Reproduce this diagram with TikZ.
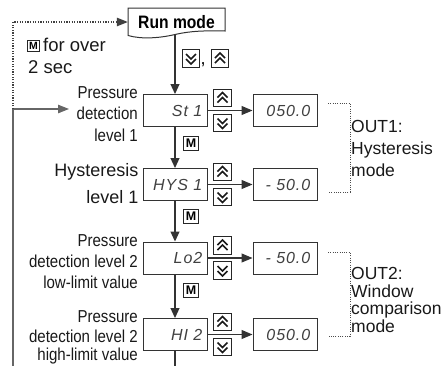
\documentclass[tikz,border=0pt]{standalone}
\usepackage{fontspec}
\setmainfont{Liberation Sans}
\newfontfamily\condfont[FakeStretch=0.87]{Liberation Sans}
\newfontfamily\segfont[LetterSpace=6]{Liberation Sans}
\usetikzlibrary{arrows.meta,calc}
\tikzset{
 ln/.style={draw=black!80, line width=1.1pt},
 tip/.style={-{Triangle[length=10pt,width=9pt]}},
 box/.style={draw=black!80, line width=1pt, fill=white, minimum width=64pt, minimum height=32pt, inner sep=0pt},
 seg/.style={anchor=east, inner sep=0pt, text=black!75, font=\segfont\itshape\fontsize{16}{16}\selectfont},
 btn/.style={draw=black!85, line width=0.9pt, fill=white, minimum size=17.5pt, inner sep=0pt},
 chev/.style={draw=black!90, line width=1.6pt},
 mkey/.style={draw=black!85, line width=0.9pt, minimum width=15pt, minimum height=14pt, inner sep=0pt, font=\bfseries\fontsize{12.5}{12.5}\selectfont},
 lbl/.style={anchor=base east, inner sep=0pt, text=black!90, font=\condfont\fontsize{17.3}{20}\selectfont},
 hlbl/.style={anchor=base east, inner sep=0pt, text=black!90, font=\fontsize{18}{20}\selectfont},
 otxt/.style={anchor=base west, inner sep=0pt, text=black!90, font=\fontsize{17.5}{20}\selectfont},
 dots/.style={draw=black!70, line width=0.8pt, dash pattern=on 1pt off 1.3pt},
 loopdots/.style={draw=black!75, line width=1.2pt, dash pattern=on 1.2pt off 1.4pt},
 upbtn/.pic={\node[btn] (-b) at (0,0) {};
   \draw[chev] (-5,-0.5) -- (0,-5.5) -- (5,-0.5);
   \draw[chev] (-5,4.5) -- (0,-0.5) -- (5,4.5);},
 dnbtn/.pic={\node[btn] (-b) at (0,0) {};
   \draw[chev] (-5,-4.5) -- (0,0.5) -- (5,-4.5);
   \draw[chev] (-5,0.5) -- (0,5.5) -- (5,0.5);}
}
\begin{document}
\begin{tikzpicture}[x=1pt,y=-1pt]
\useasboundingbox (0,0) rectangle (448,365);

% Run mode document shape
\draw[ln, line width=1pt, fill=white] (128,8) -- (225,8) -- (225,31)
  .. controls (205,30.5) and (190,31) .. (175,34.5)
  .. controls (160,38) and (142,39.5) .. (128,35.5) -- cycle;
\node[inner sep=0pt, minimum width=97pt, minimum height=28pt,
  font=\condfont\bfseries\fontsize{18}{18}\selectfont] (run) at (176.5,22) {Run mode};
\coordinate (runb) at (175,34.5);

% top keys
\pic (tdn) at (191,58.5) {dnbtn};
\node[inner sep=0pt, anchor=base, font=\fontsize{18}{18}\selectfont] (comma) at (203,64) {,};
\pic (tup) at (220,58.5) {upbtn};

% setting boxes
\node[box] (s1) at (175,110.5) {};
\node[box] (s2) at (175,184.5) {};
\node[box] (s3) at (175,258) {};
\node[box] (s4) at (175,334.5) {};
\node[seg] (t1) at ($(s1.east)+(-5,0)$) {St 1};
\node[seg] (t2) at ($(s2.east)+(-5,0)$) {HYS 1};
\node[seg] (t3) at ($(s3.east)+(-5,0)$) {Lo2};
\node[seg] (t4) at ($(s4.east)+(-5,0)$) {HI 2};

% value boxes
\node[box] (v1) at (285,110.5) {};
\node[box] (v2) at (285,184.5) {};
\node[box] (v3) at (285,258) {};
\node[box] (v4) at (285,334.5) {};
\node[seg] (w1) at ($(v1.east)+(-7,0)$) {050.0};
\node[seg] (w2) at ($(v2.east)+(-7,0)$) {- 50.0};
\node[seg] (w3) at ($(v3.east)+(-7,0)$) {- 50.0};
\node[seg] (w4) at ($(v4.east)+(-7,0)$) {050.0};

% vertical flow
\draw[ln, tip] (runb) -- (s1.north);
\draw[ln, tip] (s1.south) -- (s2.north);
\draw[ln, tip] (s2.south) -- (s3.north);
\draw[ln, tip] (s3.south) -- (s4.north);
\coordinate (bot) at (175,367);
\draw[ln] (s4.south) -- (bot);

\node[mkey] (m1) at (191,143) {M};
\node[mkey] (m2) at (191,216) {M};
\node[mkey] (m3) at (191,290) {M};

% horizontal arrows and keys
\foreach \i in {1,2,3,4}{
  \draw[ln, -{Triangle[length=11pt,width=9pt]}] (s\i.east) -- (v\i.west);
}
\pic (u1) at (222.5,98) {upbtn};
\pic (d1) at (222.5,123) {dnbtn};
\pic (u2) at (222.5,172) {upbtn};
\pic (d2) at (222.5,197) {dnbtn};
\pic (u3) at (222.5,245.5) {upbtn};
\pic (d3) at (222.5,270.5) {dnbtn};
\pic (u4) at (222.5,322) {upbtn};
\pic (d4) at (222.5,347) {dnbtn};

% left labels
\node[lbl] (l1a) at (138,98) {Pressure};
\node[lbl] (l1b) at (138,119.5) {detection};
\node[lbl] (l1c) at (138,141) {level 1};
\node[hlbl] (l2a) at (138.5,176) {Hysteresis};
\node[hlbl] (l2b) at (138.5,203.5) {level 1};
\node[lbl] (l3a) at (138,246.5) {Pressure};
\node[lbl] (l3b) at (138,267.5) {detection level 2};
\node[lbl] (l3c) at (138,288.5) {low-limit value};
\node[lbl] (l4a) at (138,322) {Pressure};
\node[lbl] (l4b) at (138,342) {detection level 2};
\node[lbl] (l4c) at (138,360.5) {high-limit value};

% loop back
\coordinate (lb) at (13,367);
\coordinate (lj) at (13,109);
\coordinate (la) at (69,109);
\coordinate (lt) at (13,22);
\draw[ln, draw=black!60, -{Triangle[length=11pt,width=8.5pt]}] (lb) -- (lj) -- (la);
\draw[loopdots, -{Triangle[length=11pt,width=8.5pt]}] (lj) -- (lt) -- (run.west);
\node[draw=black!85, line width=0.9pt, minimum width=11.5pt, minimum height=11pt, inner sep=0pt,
  font=\bfseries\fontsize{10.5}{10.5}\selectfont] (m0) at (33.5,45.5) {M};
\node[otxt, font=\fontsize{18.5}{20}\selectfont] (fo) at (43,51.5) {for over};
\node[otxt, font=\fontsize{18.5}{20}\selectfont] (ts) at (28,73.5) {2 sec};

% OUT brackets
\draw[dots] (328,103) -- (350,103) -- (350,192) -- (328,192);
\draw[dots] (328,252) -- (350,252) -- (350,336) -- (328,336);
\node[otxt] (o1a) at (351,132) {OUT1:};
\node[otxt] (o1b) at (351,154) {Hysteresis};
\node[otxt] (o1c) at (351,176) {mode};
\node[otxt] (o2a) at (351,279.5) {OUT2:};
\node[otxt] (o2b) at (351,297) {Window};
\node[otxt] (o2c) at (351,314.5) {comparison};
\node[otxt] (o2d) at (351,332) {mode};
\end{tikzpicture}
\end{document}
